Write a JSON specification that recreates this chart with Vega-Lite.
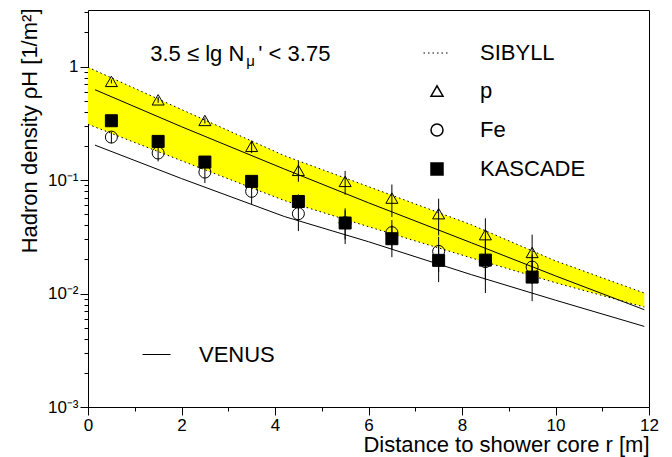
{
  "$schema": "https://vega.github.io/schema/vega-lite/v6.json",
  "width": 561,
  "height": 397,
  "autosize": "none",
  "padding": {"left": 88, "top": 10, "right": 23, "bottom": 50},
  "background": "white",
  "config": {
    "view": {"stroke": "black", "strokeWidth": 1},
    "font": "Liberation Sans",
    "axis": {
      "labelFont": "Liberation Sans",
      "titleFont": "Liberation Sans",
      "labelColor": "black",
      "titleColor": "black",
      "titleFontWeight": "normal",
      "grid": false
    },
    "legend": {
      "labelFont": "Liberation Sans",
      "labelColor": "black",
      "labelFontSize": 22,
      "labelLimit": 0,
      "padding": 0
    },
    "text": {"font": "Liberation Sans"}
  },
  "datasets": {
    "band": [
      {"model": "SIBYLL", "r": 0, "p": 0.986, "fe": 0.31},
      {"model": "SIBYLL", "r": 2, "p": 0.418, "fe": 0.148},
      {"model": "SIBYLL", "r": 4.2, "p": 0.164, "fe": 0.066},
      {"model": "SIBYLL", "r": 6, "p": 0.0875, "fe": 0.0388},
      {"model": "SIBYLL", "r": 8.2, "p": 0.0404, "fe": 0.0206},
      {"model": "SIBYLL", "r": 10, "p": 0.0194, "fe": 0.01245},
      {"model": "SIBYLL", "r": 11.9, "p": 0.0101, "fe": 0.0076}
    ],
    "venus": [
      {"model": "VENUS", "primary": "p", "r": 0.15, "rho": 0.625},
      {"model": "VENUS", "primary": "p", "r": 2, "rho": 0.295},
      {"model": "VENUS", "primary": "p", "r": 4.2, "rho": 0.125},
      {"model": "VENUS", "primary": "p", "r": 6, "rho": 0.063},
      {"model": "VENUS", "primary": "p", "r": 8.2, "rho": 0.028},
      {"model": "VENUS", "primary": "p", "r": 10, "rho": 0.0143},
      {"model": "VENUS", "primary": "p", "r": 11.9, "rho": 0.0072},
      {"model": "VENUS", "primary": "Fe", "r": 0.15, "rho": 0.203},
      {"model": "VENUS", "primary": "Fe", "r": 2, "rho": 0.103},
      {"model": "VENUS", "primary": "Fe", "r": 4.2, "rho": 0.0477},
      {"model": "VENUS", "primary": "Fe", "r": 6, "rho": 0.0286},
      {"model": "VENUS", "primary": "Fe", "r": 8.2, "rho": 0.01466},
      {"model": "VENUS", "primary": "Fe", "r": 10, "rho": 0.00873},
      {"model": "VENUS", "primary": "Fe", "r": 11.9, "rho": 0.00513}
    ],
    "points": [
      {"series": "p", "r": 0.5, "rho": 0.74, "lo": 0.71, "hi": 0.77},
      {"series": "p", "r": 1.5, "rho": 0.509, "lo": 0.479, "hi": 0.539},
      {"series": "p", "r": 2.5, "rho": 0.335, "lo": 0.315, "hi": 0.355},
      {"series": "p", "r": 3.5, "rho": 0.198, "lo": 0.173, "hi": 0.223},
      {"series": "p", "r": 4.5, "rho": 0.1216, "lo": 0.0966, "hi": 0.1466},
      {"series": "p", "r": 5.5, "rho": 0.0973, "lo": 0.0743, "hi": 0.1203},
      {"series": "p", "r": 6.5, "rho": 0.0693, "lo": 0.0473, "hi": 0.0913},
      {"series": "p", "r": 7.5, "rho": 0.0505, "lo": 0.0325, "hi": 0.0685},
      {"series": "p", "r": 8.5, "rho": 0.033, "lo": 0.02, "hi": 0.046},
      {"series": "p", "r": 9.5, "rho": 0.023, "lo": 0.013, "hi": 0.033},
      {"series": "Fe", "r": 0.5, "rho": 0.239, "lo": 0.211, "hi": 0.267},
      {"series": "Fe", "r": 1.5, "rho": 0.173, "lo": 0.146, "hi": 0.2},
      {"series": "Fe", "r": 2.5, "rho": 0.1175, "lo": 0.094, "hi": 0.141},
      {"series": "Fe", "r": 3.5, "rho": 0.0795, "lo": 0.0615, "hi": 0.0975},
      {"series": "Fe", "r": 4.5, "rho": 0.0505, "lo": 0.0355, "hi": 0.0655},
      {"series": "Fe", "r": 5.5, "rho": 0.042, "lo": 0.03, "hi": 0.054},
      {"series": "Fe", "r": 6.5, "rho": 0.0344, "lo": 0.0244, "hi": 0.0444},
      {"series": "Fe", "r": 7.5, "rho": 0.0235, "lo": 0.0155, "hi": 0.0315},
      {"series": "Fe", "r": 8.5, "rho": 0.0191, "lo": 0.0131, "hi": 0.0251},
      {"series": "Fe", "r": 9.5, "rho": 0.0171, "lo": 0.0121, "hi": 0.0221},
      {"series": "KASCADE", "r": 0.5, "rho": 0.333, "lo": 0.313, "hi": 0.353},
      {"series": "KASCADE", "r": 1.5, "rho": 0.219, "lo": 0.204, "hi": 0.234},
      {"series": "KASCADE", "r": 2.5, "rho": 0.144, "lo": 0.132, "hi": 0.156},
      {"series": "KASCADE", "r": 3.5, "rho": 0.0973, "lo": 0.0873, "hi": 0.1073},
      {"series": "KASCADE", "r": 4.5, "rho": 0.0647, "lo": 0.0547, "hi": 0.0747},
      {"series": "KASCADE", "r": 5.5, "rho": 0.0418, "lo": 0.0273, "hi": 0.0563},
      {"series": "KASCADE", "r": 6.5, "rho": 0.0304, "lo": 0.0209, "hi": 0.0399},
      {"series": "KASCADE", "r": 7.5, "rho": 0.0196, "lo": 0.0126, "hi": 0.0266},
      {"series": "KASCADE", "r": 8.5, "rho": 0.0197, "lo": 0.0101, "hi": 0.0293},
      {"series": "KASCADE", "r": 9.5, "rho": 0.01396, "lo": 0.00856, "hi": 0.01936}
    ],
    "note": [
      {"r": 3.343, "rho": 1.109, "main": "3.5 ≤ lg N", "sub": "μ", "rest": "' < 3.75"}
    ]
  },
  "layer": [
    {
      "data": {"name": "band"},
      "mark": {"type": "area", "color": "#ffff00", "opacity": 1},
      "encoding": {
        "x": {
          "field": "r",
          "type": "quantitative",
          "scale": {"domain": [0, 12], "nice": false, "zero": false},
          "axis": {
            "orient": "bottom",
            "values": [0, 0.5, 1, 1.5, 2, 2.5, 3, 3.5, 4, 4.5, 5, 5.5, 6, 6.5, 7, 7.5, 8, 8.5, 9, 9.5, 10, 10.5, 11, 11.5, 12],
            "ticks": true,
            "tickSize": 8,
            "tickColor": "black",
            "tickWidth": 1,
            "tickDash": {"condition": {"test": "datum.value % 2 == 0", "value": [30, 1]}, "value": [4, 30]},
            "domain": false,
            "labelExpr": "datum.value % 2 == 0 ? datum.label : ''",
            "labelFontSize": 17,
            "labelPadding": 2,
            "labelBaseline": "top",
            "labelOverlap": false,
            "labelFlush": false,
            "labelBound": false,
            "title": "Distance to shower core r [m]",
            "titleFontSize": 22,
            "titleAlign": "right",
            "titleBaseline": "alphabetic",
            "titleX": 561,
            "titleY": 44
          }
        },
        "y": {
          "field": "p",
          "type": "quantitative",
          "scale": {"type": "log", "domain": [0.001, 3.15], "nice": false},
          "axis": {
            "orient": "left",
            "values": [0.001, 0.002, 0.003, 0.004, 0.005, 0.006, 0.007, 0.008, 0.009, 0.01, 0.02, 0.03, 0.04, 0.05, 0.06, 0.07, 0.08, 0.09, 0.1, 0.2, 0.3, 0.4, 0.5, 0.6, 0.7, 0.8, 0.9, 1, 2, 3],
            "ticks": true,
            "tickSize": 8,
            "tickColor": "black",
            "tickWidth": 1,
            "tickDash": {"condition": {"test": "indexof([0.001, 0.01, 0.1, 1], datum.value) >= 0", "value": [30, 1]}, "value": [4, 30]},
            "domain": false,
            "labelExpr": "datum.value == 0.001 ? '10⁻³' : (datum.value == 0.01 ? '10⁻²' : (datum.value == 0.1 ? '10⁻¹' : (datum.value == 1 ? '1\u00a0\u00a0\u00a0' : '')))",
            "labelFontSize": 17,
            "labelPadding": 2,
            "labelOverlap": false,
            "labelFlush": false,
            "labelBound": false,
            "title": "Hadron density ρH [1/m²]",
            "titleFontSize": 22,
            "titleAngle": 270,
            "titleAlign": "right",
            "titleBaseline": "alphabetic",
            "titleX": -52,
            "titleY": -2
          }
        },
        "y2": {"field": "fe"}
      }
    },
    {
      "data": {"name": "band"},
      "transform": [{"fold": ["p", "fe"], "as": ["primary", "rho"]}],
      "mark": {"type": "line", "color": "black", "strokeWidth": 1},
      "encoding": {
        "x": {"field": "r", "type": "quantitative"},
        "y": {"field": "rho", "type": "quantitative"},
        "detail": {"field": "primary"},
        "strokeDash": {
          "field": "model",
          "type": "nominal",
          "scale": {"domain": ["SIBYLL"], "range": [[1.5, 3]]},
          "legend": {
            "title": null,
            "orient": "none",
            "legendX": 335,
            "legendY": 29,
            "symbolSize": 729,
            "symbolStrokeWidth": 1,
            "labelOffset": 29
          }
        }
      }
    },
    {
      "data": {"name": "venus"},
      "mark": {"type": "line", "strokeWidth": 1},
      "encoding": {
        "x": {"field": "r", "type": "quantitative"},
        "y": {"field": "rho", "type": "quantitative"},
        "detail": {"field": "primary"},
        "color": {
          "field": "model",
          "type": "nominal",
          "scale": {"domain": ["VENUS"], "range": ["black"]},
          "legend": {
            "title": null,
            "orient": "none",
            "legendX": 54,
            "legendY": 330,
            "symbolSize": 784,
            "symbolStrokeWidth": 1,
            "labelOffset": 28
          }
        }
      }
    },
    {
      "data": {"name": "points"},
      "mark": {"type": "rule", "color": "black", "strokeWidth": 1},
      "encoding": {
        "x": {"field": "r", "type": "quantitative"},
        "y": {"field": "lo", "type": "quantitative"},
        "y2": {"field": "hi"}
      }
    },
    {
      "data": {"name": "points"},
      "mark": {"type": "point", "filled": true, "stroke": "black", "strokeWidth": 1, "size": 144, "opacity": 1},
      "encoding": {
        "x": {"field": "r", "type": "quantitative"},
        "y": {"field": "rho", "type": "quantitative"},
        "shape": {
          "field": "series",
          "type": "nominal",
          "scale": {"domain": ["p", "Fe", "KASCADE"], "range": ["triangle-up", "circle", "square"]},
          "legend": {
            "title": null,
            "orient": "none",
            "legendX": 338,
            "legendY": 70,
            "symbolSize": 144,
            "labelOffset": 32,
            "rowPadding": 17,
            "encode": {"symbols": {"update": {"stroke": {"value": "black"}, "strokeWidth": {"value": 1}}}}
          }
        },
        "fill": {
          "field": "series",
          "type": "nominal",
          "scale": {"domain": ["p", "Fe", "KASCADE"], "range": ["transparent", "transparent", "black"]},
          "legend": {
            "title": null,
            "orient": "none",
            "legendX": 338,
            "legendY": 70,
            "symbolSize": 144,
            "labelOffset": 32,
            "rowPadding": 17,
            "encode": {"symbols": {"update": {"stroke": {"value": "black"}, "strokeWidth": {"value": 1}}}}
          }
        }
      }
    },
    {
      "data": {"name": "note"},
      "mark": {"type": "text", "align": "right", "baseline": "alphabetic", "fontSize": 22, "color": "black"},
      "encoding": {
        "x": {"field": "r", "type": "quantitative"},
        "y": {"field": "rho", "type": "quantitative"},
        "text": {"field": "main"}
      }
    },
    {
      "data": {"name": "note"},
      "mark": {"type": "text", "align": "left", "baseline": "alphabetic", "fontSize": 15, "dx": 2, "dy": 5, "color": "black"},
      "encoding": {
        "x": {"field": "r", "type": "quantitative"},
        "y": {"field": "rho", "type": "quantitative"},
        "text": {"field": "sub"}
      }
    },
    {
      "data": {"name": "note"},
      "mark": {"type": "text", "align": "left", "baseline": "alphabetic", "fontSize": 22, "dx": 14, "color": "black"},
      "encoding": {
        "x": {"field": "r", "type": "quantitative"},
        "y": {"field": "rho", "type": "quantitative"},
        "text": {"field": "rest"}
      }
    }
  ]
}
